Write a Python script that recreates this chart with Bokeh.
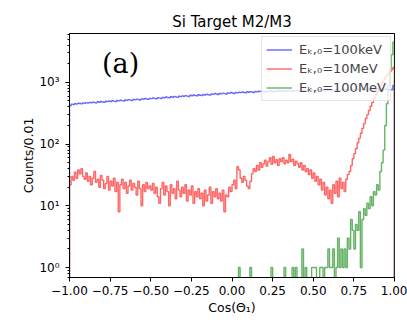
import numpy as np
from bokeh.plotting import figure
from bokeh.models import (Range1d, FixedTicker, CustomJSTickFormatter, Legend,
                          LegendItem, Label)
from bokeh.embed import file_html
from bokeh.resources import INLINE

# ---------------- data ----------------
title_text = "Si Target M2/M3"
x_label = "Cos(\u0398\u2081)"
y_label = "Counts/0.01"
series_labels = ["E\u2096,\u2080=100keV", "E\u2096,\u2080=10MeV", "E\u2096,\u2080=100MeV"]
x_ticks = [-1.0, -0.75, -0.5, -0.25, 0.0, 0.25, 0.5, 0.75, 1.0]
bin_lo, bin_hi, n_bins = -1.0, 1.0, 200

counts_100keV = [
    420, 445, 438, 452, 447, 460, 455, 449, 466, 458,
    470, 462, 475, 468, 480, 472, 466, 485, 477, 490,
    482, 476, 495, 488, 500, 491, 505, 497, 488, 510,
    502, 515, 507, 498, 520, 512, 526, 517, 509, 530,
    522, 535, 528, 519, 541, 533, 548, 538, 530, 552,
    545, 560, 551, 542, 566, 557, 548, 572, 563, 580,
    570, 562, 585, 576, 594, 582, 573, 598, 588, 605,
    596, 610, 600, 592, 618, 607, 625, 612, 604, 630,
    620, 612, 636, 625, 645, 632, 622, 650, 640, 660,
    648, 638, 662, 652, 670, 658, 648, 675, 665, 686,
    672, 662, 688, 676, 694, 682, 700, 688, 678, 705,
    692, 710, 698, 688, 715, 702, 720, 708, 730, 712,
    700, 722, 712, 735, 718, 706, 728, 716, 740, 722,
    732, 715, 740, 726, 748, 730, 718, 742, 728, 750,
    735, 722, 745, 732, 755, 738, 726, 750, 736, 758,
    742, 730, 752, 738, 760, 745, 733, 756, 741, 765,
    748, 736, 758, 744, 768, 750, 738, 762, 746, 770,
    752, 740, 765, 750, 772, 756, 744, 768, 752, 776,
    758, 746, 770, 755, 778, 760, 748, 772, 756, 780,
    762, 750, 775, 758, 782, 765, 752, 778, 760, 890,
]

counts_10MeV = [
    22, 30, 26, 35, 28, 38, 33, 40, 30, 27,
    34, 25, 30, 22, 28, 36, 24, 27, 20, 31,
    26, 19, 23, 30, 18, 25, 21, 28, 17, 24,
    8, 22, 27, 19, 24, 16, 21, 26, 18, 23,
    20, 15, 25, 19, 10, 22, 17, 24, 19, 21,
    18, 23, 16, 20, 14, 11, 19, 24, 15, 21,
    17, 10, 22, 16, 19, 13, 25, 18, 14, 20,
    16, 22, 12, 18, 15, 21, 11, 17, 14, 19,
    13, 16, 10, 18, 12, 15, 20, 11, 17, 14,
    19, 13, 16, 12, 18, 8, 15, 14, 20, 17,
    22, 26, 19, 43, 38, 28, 24, 30, 26, 21,
    19, 25, 33, 40, 36, 45, 38, 50, 42, 48,
    55, 44, 52, 60, 47, 63, 50, 56, 45, 58,
    52, 60, 48, 55, 50, 68, 52, 57, 45, 53,
    48, 42, 50, 38, 45, 36, 40, 32, 38, 28,
    34, 25, 30, 22, 27, 18, 24, 15, 20, 13,
    18, 11, 22, 16, 25, 14, 28, 19, 24, 17,
    27, 32, 36, 45, 58, 70, 85, 105, 125, 150,
    180, 215, 260, 300, 350, 410, 470, 550, 620, 700,
    800, 900, 1000, 1100, 1200, 1320, 1420, 1520, 1620, 1750,
]

counts_100MeV = [0] * 104 + [
    1, 0, 0, 0, 0, 0, 0, 1, 0, 0,          # 104-113
    0, 0, 0, 0, 0, 0, 0, 0, 0, 0,          # 114-123
    1, 0, 0, 0, 0, 0, 0, 0, 1, 0,          # 124-133
    0, 0, 0, 1, 0, 1, 0, 0, 0, 2,          # 134-143
    0, 1, 0, 0, 0, 1, 1, 1, 0, 0,          # 144-153
    1, 1, 0, 1, 1, 2, 1, 1, 2, 0,          # 154-163
    1, 3, 1, 2, 1, 2, 1, 3, 2, 6,          # 164-173
    4, 2, 5, 4, 8, 1, 6, 9, 7, 11,         # 174-183
    9, 14, 10, 17, 15, 22, 18, 36, 50, 80, # 184-193
    200, 450, 900, 1700, 2800, 4500,       # 194-199
]

assert len(counts_100keV) == n_bins
assert len(counts_10MeV) == n_bins
assert len(counts_100MeV) == n_bins

# ---------------- figure ----------------
p = figure(width=407, height=326, output_backend="svg", toolbar_location=None,
           y_axis_type="log", x_range=Range1d(-1.0, 1.0),
           y_range=Range1d(0.69, 6200),
           min_border_left=69, min_border_right=13, min_border_top=33,
           min_border_bottom=49)
p.background_fill_color = "white"
p.border_fill_color = "white"
p.outline_line_color = "black"
p.outline_line_width = 1
p.grid.visible = False

p.title.text = title_text
p.title.align = "center"
p.title.text_font = "DejaVu Sans"
p.title.text_font_size = "15px"
p.title.text_font_style = "normal"
p.title.text_color = "black"
p.title.standoff = 5

edges = np.linspace(bin_lo, bin_hi, n_bins + 1)
floor = 1e-3


def step_path(counts):
    c = np.asarray(counts, dtype=float)
    c = np.where(c > 0, c, floor)
    xs = np.repeat(edges, 2)
    ys = np.concatenate([[floor], np.repeat(c, 2), [floor]])
    return xs, ys


colors = ["blue", "red", "green"]
renderers = []
for counts, col in zip([counts_100keV, counts_10MeV, counts_100MeV], colors):
    xs, ys = step_path(counts)
    r = p.line(xs, ys, line_color=col, line_alpha=0.6, line_width=1.4)
    renderers.append(r)

legend = Legend(items=[LegendItem(label=lab, renderers=[r])
                       for lab, r in zip(series_labels, renderers)],
                location="top_right")
legend.margin = 3
legend.padding = 4
legend.spacing = 2
legend.glyph_width = 26
legend.glyph_height = 17
legend.label_height = 17
legend.label_standoff = 7
legend.label_text_font = "DejaVu Sans"
legend.label_text_font_size = "13px"
legend.border_line_color = "#cccccc"
legend.border_line_width = 1
legend.background_fill_alpha = 0.8
p.add_layout(legend)

lab_a = Label(x=-0.80, y=2000, text="(a)", text_font="DejaVu Serif",
              text_font_size="27px", text_baseline="alphabetic",
              text_color="black")
p.add_layout(lab_a)

# axes
for ax in [p.xaxis[0], p.yaxis[0]]:
    ax.axis_line_color = "black"
    ax.major_tick_line_color = "black"
    ax.minor_tick_line_color = "black"
    ax.major_tick_out = 4
    ax.major_tick_in = 0
    ax.minor_tick_out = 2
    ax.minor_tick_in = 0
    ax.major_label_text_font = "DejaVu Sans"
    ax.major_label_text_font_size = "12px"
    ax.major_label_text_color = "black"
    ax.axis_label_text_font = "DejaVu Sans"
    ax.axis_label_text_font_size = "12.5px"
    ax.axis_label_text_font_style = "normal"
    ax.axis_label_text_color = "black"

p.xaxis.axis_label = x_label
p.yaxis.axis_label = y_label
p.xaxis.ticker = FixedTicker(ticks=x_ticks)
p.xaxis.formatter = CustomJSTickFormatter(
    code="return (tick < 0 ? '\u2212' : '') + Math.abs(tick).toFixed(2);")
p.xaxis.major_label_standoff = 4
p.xaxis.axis_label_standoff = 2
p.yaxis.major_label_standoff = 6
p.yaxis.axis_label_standoff = 0
p.yaxis.formatter = CustomJSTickFormatter(code="""
const sup = {'0':'\u2070','1':'\u00b9','2':'\u00b2','3':'\u00b3','4':'\u2074','5':'\u2075','6':'\u2076','7':'\u2077','8':'\u2078','9':'\u2079','-':'\u207b'};
const e = Math.round(Math.log10(tick));
return '10' + String(e).split('').map(c => sup[c]).join('');
""")

open("out.html", "w").write(file_html(p, INLINE))
